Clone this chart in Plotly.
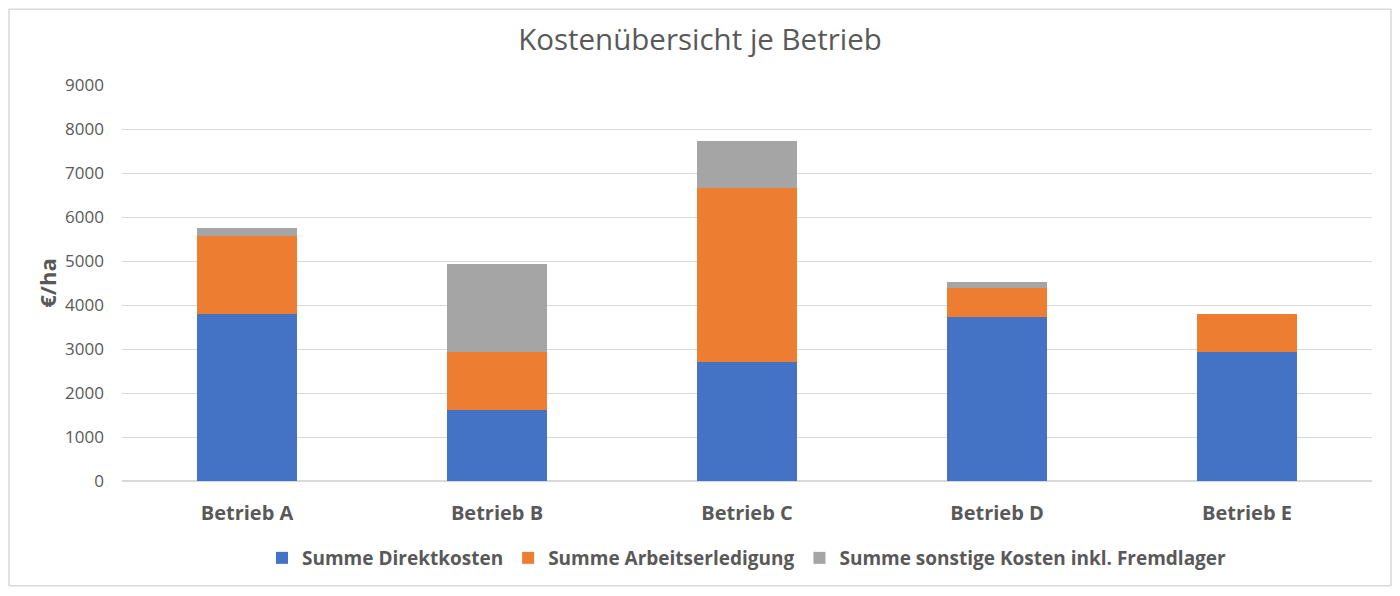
import plotly.graph_objects as go

betriebe = ["Betrieb A", "Betrieb B", "Betrieb C", "Betrieb D", "Betrieb E"]
direktkosten = [3800, 1625, 2715, 3720, 2930]
arbeitserledigung = [1775, 1310, 3950, 665, 860]
sonstige_kosten = [180, 1990, 1065, 140, 0]

series = [
    ("Summe Direktkosten", direktkosten, "#4472C4"),
    ("Summe Arbeitserledigung", arbeitserledigung, "#ED7D31"),
    ("Summe sonstige Kosten inkl. Fremdlager", sonstige_kosten, "#A5A5A5"),
]

# the page body has an 8px margin, so the figure is sized to fit inside it
W, H = 1384, 580
ml, mr, mt, mb = 114, 20, 77, 106
pw, ph = W - ml - mr, H - mt - mb

fig = go.Figure()
for name, values, color in series:
    fig.add_trace(go.Bar(x=betriebe, y=values, name=name, marker_color=color,
                         marker_line_width=0))

fig.update_layout(
    barmode="stack",
    bargap=0.6,
    width=W,
    height=H,
    margin=dict(l=ml, r=mr, t=mt, b=mb),
    paper_bgcolor="white",
    plot_bgcolor="white",
    font=dict(family="Open Sans", color="#595959"),
    title=dict(text="Kostenübersicht je Betrieb", x=0.5, xanchor="center",
               y=1 - 32 / H, yanchor="middle",
               font=dict(size=29.5, color="#595959")),
    legend=dict(orientation="h", x=0.5, xanchor="center", y=-76 / ph,
                yanchor="middle",
                font=dict(size=19, color="#595959", weight="bold"),
                traceorder="normal", itemwidth=30),
    showlegend=True,
)
fig.update_xaxes(showgrid=False, showline=False, ticks="", ticklabelstandoff=18,
                 tickfont=dict(size=20, color="#595959", weight="bold"))
fig.update_yaxes(range=[0, 9000], dtick=1000, showgrid=True, gridcolor="#D9D9D9",
                 gridwidth=1, zeroline=True, zerolinecolor="#D9D9D9", ticks="",
                 tickfont=dict(size=17, color="#595959"), ticklabelstandoff=17,
                 title=dict(text="€/ha", font=dict(size=22, weight="bold",
                                                   color="#595959"), standoff=2))

# light frame around the whole chart area
fig.add_shape(type="rect", xref="paper", yref="paper",
              x0=-(ml - 1) / pw, x1=1 + (mr - 1) / pw,
              y0=-(mb - 1) / ph, y1=1 + (mt - 1) / ph,
              line=dict(color="#D9D9D9", width=1.5), layer="below")

fig.write_html("out.html")
